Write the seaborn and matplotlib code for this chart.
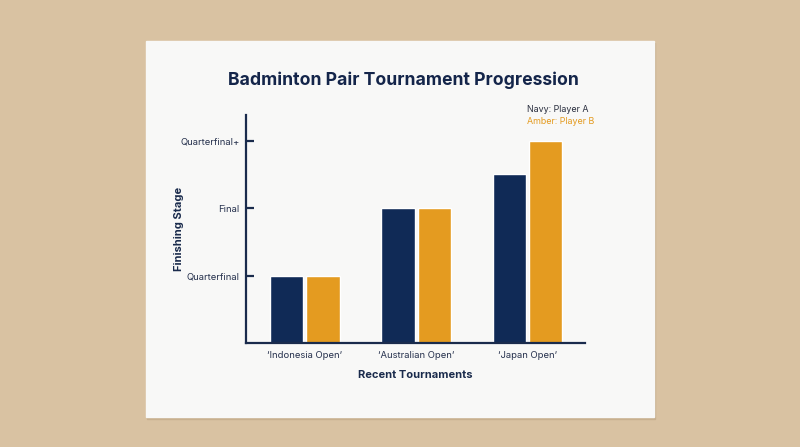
import pandas as pd
import seaborn as sns
import matplotlib.pyplot as plt
from matplotlib.patches import Rectangle

tournaments = ['\u2018Indonesia Open\u2019', '\u2018Australian Open\u2019', '\u2018Japan Open\u2019']
player_a = [1, 2, 2.5]
player_b = [1, 2, 3]
stage_ticks = [1, 2, 3]
stage_labels = ['Quarterfinal', 'Final', 'Quarterfinal+']

navy = '#102a56'
amber = '#e49b20'
ink = '#1a2b4c'

df = pd.DataFrame({
    'tournament': tournaments * 2,
    'stage': player_a + player_b,
    'player': ['Player A'] * 3 + ['Player B'] * 3,
})

sns.set_style('white')
plt.rcParams['font.family'] = ['Inter', 'DejaVu Sans']

fig = plt.figure(figsize=(8, 4.47), dpi=100, facecolor='#d9c2a2')

# paper sheet
fig.patches.append(Rectangle((147 / 800, 1 - 418.5 / 447), 508 / 800, 376 / 447,
                             transform=fig.transFigure, color='#c8b08f', zorder=-2))
fig.patches.append(Rectangle((146 / 800, 1 - 417 / 447), 508 / 800, 376 / 447,
                             transform=fig.transFigure, color='#f8f8f7', zorder=-1))

ax = fig.add_axes([246 / 800, 1 - 343 / 447, 339 / 800, 228 / 447])
ax.set_facecolor('none')
ax.set_zorder(1)

sns.barplot(data=df, x='tournament', y='stage', hue='player',
            palette=[navy, amber], width=0.65, gap=0.08, legend=False,
            saturation=1, ax=ax)

ax.set_ylim(0, 3.38)
ax.set_xlim(-0.53, 2.52)
ax.set_yticks(stage_ticks)
ax.set_yticklabels(stage_labels)

for side in ['top', 'right']:
    ax.spines[side].set_visible(False)
for side in ['left', 'bottom']:
    ax.spines[side].set_color(ink)
    ax.spines[side].set_linewidth(1.6)

ax.tick_params(axis='y', left=True, direction='in', length=6, width=1.6, color=ink,
               labelsize=6.8, labelcolor='#26314d', pad=4.5)
ax.tick_params(axis='x', bottom=False, length=0, labelsize=6.8, labelcolor='#26314d', pad=6)

ax.set_xlabel('Recent Tournaments', fontsize=8, fontweight='bold', color=ink, labelpad=7)
ax.set_ylabel('Finishing Stage', fontsize=8, fontweight='bold', color=ink, labelpad=-2.5)

fig.text(0.5 * (229 + 578) / 800, 1 - 80 / 447, 'Badminton Pair Tournament Progression',
         ha='center', va='center', fontsize=12.7, fontweight='bold', color='#14254a')

fig.text(527 / 800, 1 - 110 / 447, 'Navy: Player A', fontsize=6.4, color='#2a2f3f', va='center')
fig.text(527 / 800, 1 - 122 / 447, 'Amber: Player B', fontsize=6.4, color=amber, va='center')

fig.savefig('out.png', dpi=100, facecolor=fig.get_facecolor())
